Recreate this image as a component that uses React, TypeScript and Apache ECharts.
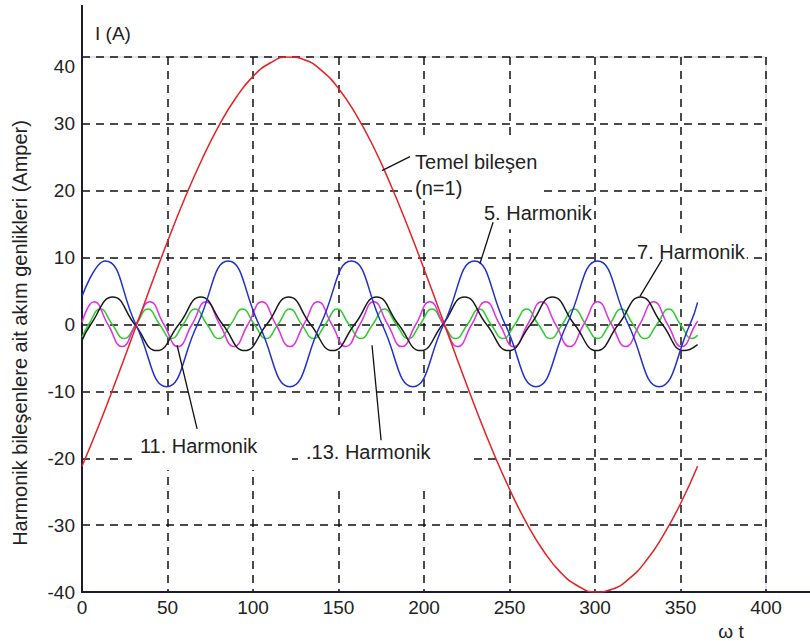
import { useEffect, useRef } from 'react';
import * as echarts from 'echarts';

// ωt (degrees) vs current (A)
const fundamental: [number, number][] = [
  [0, -21.2], [10, -15.0], [20, -8.3], [30, -1.4], [40, 5.6], [50, 12.4], [60, 18.8],
  [70, 24.6], [80, 29.7], [90, 33.9], [100, 37.1], [110, 39.1], [120, 40.0], [130, 39.6],
  [140, 38.0], [150, 35.3], [160, 31.5], [170, 26.8], [180, 21.2], [190, 15.0], [200, 8.3],
  [210, 1.4], [220, -5.6], [230, -12.4], [240, -18.8], [250, -24.6], [260, -29.7], [270, -33.9],
  [280, -37.1], [290, -39.1], [300, -40.0], [310, -39.6], [320, -38.0], [330, -35.3],
  [340, -31.5], [350, -26.8], [360, -21.2],
];

const harmonic5: [number, number][] = [
  [0, 4.2], [13.5, 9.5], [31.5, 0], [49.5, -9.3], [67.5, 0], [85.5, 9.5], [103.5, 0],
  [121.5, -9.3], [139.5, 0], [157.5, 9.5], [175.5, 0], [193.5, -9.3], [211.5, 0], [229.5, 9.5],
  [247.5, 0], [265.5, -9.3], [283.5, 0], [301.5, 9.5], [319.5, 0], [337.5, -9.3], [355.5, 0],
  [360, 3.3],
];

const harmonic7: [number, number][] = [
  [0, -2.4], [5.1, 0], [18, 4.1], [30.9, 0], [43.7, -3.9], [56.6, 0], [69.4, 4.1], [82.3, 0],
  [95.1, -3.9], [108, 0], [120.9, 4.1], [133.7, 0], [146.6, -3.9], [159.4, 0], [172.3, 4.1],
  [185.1, 0], [198, -3.9], [210.9, 0], [223.7, 4.1], [236.6, 0], [249.4, -3.9], [262.3, 0],
  [275.1, 4.1], [288, 0], [300.9, -3.9], [313.7, 0], [326.6, 4.1], [339.4, 0], [352.3, -3.9],
  [360, -3.0],
];

const harmonic11: [number, number][] = [
  [0, 0.3], [7, 3.4], [15.2, 0], [23.4, -3.3], [31.5, 0], [39.7, 3.4], [47.9, 0], [56.1, -3.3],
  [64.3, 0], [72.5, 3.4], [80.6, 0], [88.8, -3.3], [97, 0], [105.2, 3.4], [113.4, 0],
  [121.5, -3.3], [129.7, 0], [137.9, 3.4], [146.1, 0], [154.3, -3.3], [162.5, 0], [170.6, 3.4],
  [178.8, 0], [187, -3.3], [195.2, 0], [203.4, 3.4], [211.5, 0], [219.7, -3.3], [227.9, 0],
  [236.1, 3.4], [244.3, 0], [252.5, -3.3], [260.6, 0], [268.8, 3.4], [277, 0], [285.2, -3.3],
  [293.4, 0], [301.6, 3.4], [309.7, 0], [317.9, -3.3], [326.1, 0], [334.3, 3.4], [342.5, 0],
  [350.7, -3.3], [358.8, 0], [360, 0.5],
];

const harmonic13: [number, number][] = [
  [0, -1.9], [3.9, 0], [10.8, 2.3], [17.7, 0], [24.6, -2.1], [31.6, 0], [38.5, 2.3], [45.4, 0],
  [52.3, -2.1], [59.1, 0], [66.2, 2.3], [73.1, 0], [80, -2.1], [86.9, 0], [93.9, 2.3],
  [100.8, 0], [107.7, -2.1], [114.6, 0], [121.5, 2.3], [128.5, 0], [135.4, -2.1], [142.3, 0],
  [149.2, 2.3], [156.1, 0], [163.1, -2.1], [170, 0], [176.9, 2.3], [183.8, 0], [190.8, -2.1],
  [197.7, 0], [204.6, 2.3], [211.5, 0], [218.5, -2.1], [225.4, 0], [232.3, 2.3], [239.2, 0],
  [246.2, -2.1], [253.1, 0], [260, 2.3], [266.9, 0], [273.9, -2.1], [280.8, 0], [287.7, 2.3],
  [294.6, 0], [301.5, -2.1], [308.5, 0], [315.4, 2.3], [322.3, 0], [329.2, -2.1], [336.2, 0],
  [343.1, 2.3], [350, 0], [356.9, -2.1], [360, -1.6],
];

const X_MIN = 0;
const X_MAX = 400;
const X_STEP = 50;
const Y_MIN = -40;
const Y_MAX = 40;
const Y_STEP = 10;

const yTitle = 'Harmonik bileşenlere ait akım genlikleri (Amper)';
const yUnit = 'I (A)';
const xUnit = 'ω t';

// callouts: text anchor (left, middle) and leader line, in data coordinates
const callouts = [
  { text: 'Temel bileşen\n(n=1)', at: [193.6, 27.8], vAlign: 'top', pad: [10, 2, 0, 2], from: [191.8, 25.1], to: [175.4, 23.0] },
  { text: '5. Harmonik', at: [233.9, 16.7], vAlign: 'middle', pad: [3, 2, 4, 2], from: [240.4, 15.3], to: [232.7, 9.1] },
  { text: '7. Harmonik', at: [323.4, 10.9], vAlign: 'middle', pad: [2, 2, 4, 2], from: [339.2, 9.7], to: [326.3, 4.2] },
  { text: '11. Harmonik', at: [32.7, -18.1], vAlign: 'middle', pad: [3, 30, 20, 2], from: [55.6, -3.1], to: [67.3, -15.6] },
  { text: '.13. Harmonik', at: [126.3, -19.1], vAlign: 'middle', pad: [10, 42, 34, 8], from: [169.6, -3.1], to: [174.9, -17.3] },
];

const FONT = "'Liberation Sans', Arial, sans-serif";

export default function App() {
  const ref = useRef<HTMLDivElement>(null);
  useEffect(() => {
    if (!ref.current) return;
    const chart = echarts.init(ref.current, null, { renderer: 'svg' });
    const line = (data: [number, number][], color: string, z: number) => ({
      type: 'line',
      data,
      smooth: true,
      showSymbol: false,
      z,
      lineStyle: { color, width: 1.5 },
      itemStyle: { color },
    });
    chart.setOption({
      animation: false,
      backgroundColor: '#fff',
      grid: {
        left: 82, right: 44, top: 57, bottom: 49,
        show: true, borderColor: '#c4c4ee', borderWidth: 1,
      },
      xAxis: {
        type: 'value', min: X_MIN, max: X_MAX, interval: X_STEP,
        axisLine: { show: true, onZero: false, lineStyle: { color: '#1c1c38', width: 2 } },
        axisTick: { show: false },
        axisLabel: { color: '#222', fontSize: 19, fontFamily: FONT, margin: 6 },
        splitLine: { show: true, lineStyle: { color: '#111', width: 1.5, type: [8, 6] } },
      },
      yAxis: {
        type: 'value', min: Y_MIN, max: Y_MAX, interval: Y_STEP,
        axisLine: { show: true, onZero: false, lineStyle: { color: '#1c1c38', width: 2 } },
        axisTick: { show: false },
        axisLabel: { color: '#222', fontSize: 19, fontFamily: FONT, margin: 7, verticalAlignMaxLabel: 'top' },
        splitLine: { show: true, lineStyle: { color: '#111', width: 1.5, type: [8, 6] } },
      },
      series: [
        line(harmonic13, '#2ccc2c', 2),
        line(harmonic11, '#e030e0', 3),
        line(harmonic7, '#1a1a1a', 4),
        line(harmonic5, '#2030cc', 5),
        line(fundamental, '#e42222', 6),
      ],
    });

    const px = (p: number[]) => chart.convertToPixel({ gridIndex: 0 }, p) as number[];
    const origin = px([X_MIN, Y_MIN]);
    const topLeft = px([X_MIN, Y_MAX]);
    const bottomRight = px([X_MAX, Y_MIN]);
    const axisColor = '#1c1c38';

    const graphic: any[] = [
      { type: 'line', z: 50, shape: { x1: topLeft[0], y1: topLeft[1], x2: topLeft[0], y2: 5 }, style: { stroke: axisColor, lineWidth: 2 } },
      { type: 'line', z: 50, shape: { x1: bottomRight[0], y1: origin[1], x2: 810, y2: origin[1] }, style: { stroke: axisColor, lineWidth: 2 } },
      { type: 'text', z: 50, x: topLeft[0] + 13, y: 33, style: { text: yUnit, font: `19px ${FONT}`, fill: '#222', align: 'left', verticalAlign: 'middle' } },
      { type: 'text', z: 50, x: 731, y: 631, style: { text: xUnit, font: `19px ${FONT}`, fill: '#222', align: 'center', verticalAlign: 'middle' } },
      { type: 'text', z: 50, x: 20, y: 333, rotation: Math.PI / 2, style: { text: yTitle, font: `20px ${FONT}`, fill: '#222', align: 'center', verticalAlign: 'middle' } },
    ];
    callouts.forEach((c) => {
      const a = px(c.at);
      const f = px(c.from);
      const t = px(c.to);
      graphic.push({
        type: 'text', z: 60, x: a[0], y: a[1],
        style: {
          text: c.text, font: `20px ${FONT}`, fill: '#222', align: 'left',
          verticalAlign: c.vAlign, lineHeight: 26, backgroundColor: '#fff', padding: c.pad,
        },
      });
      graphic.push({
        type: 'line', z: 61,
        shape: { x1: f[0], y1: f[1], x2: t[0], y2: t[1] },
        style: { stroke: '#111', lineWidth: 1.3 },
      });
    });
    chart.setOption({ graphic });
    return () => chart.dispose();
  }, []);
  return <div ref={ref} style={{ position: 'fixed', left: 0, top: 0, width: 810, height: 641 }} />;
}
